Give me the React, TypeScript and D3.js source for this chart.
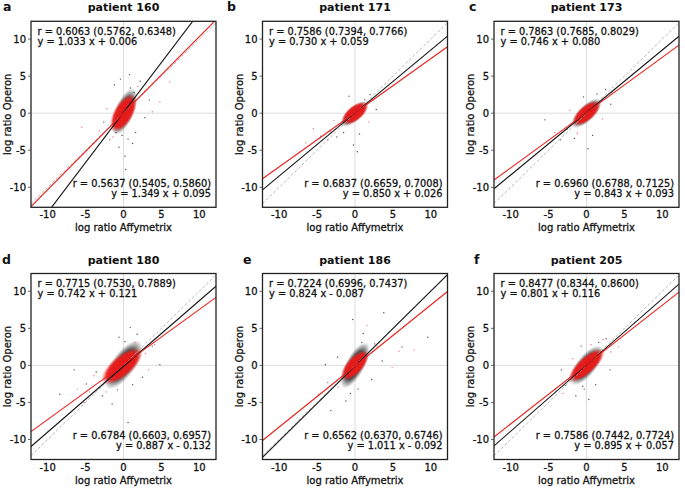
import React from 'react';
import * as d3 from 'd3';

// ---------- data ----------
const panelLetters = ['a', 'b', 'c', 'd', 'e', 'f'];
const patients = ['160', '171', '173', '180', '186', '205'];

// red fit (upper-left annotation)
const redR = [0.6063, 0.7586, 0.7863, 0.7715, 0.7224, 0.8477];
const redLo = [0.5762, 0.7394, 0.7685, 0.753, 0.6996, 0.8344];
const redHi = [0.6348, 0.7766, 0.8029, 0.7889, 0.7437, 0.86];
const redSlope = [1.033, 0.73, 0.746, 0.742, 0.824, 0.801];
const redIntercept = [0.006, 0.059, 0.08, 0.121, -0.087, 0.116];

// black fit (lower-right annotation)
const blackR = [0.5637, 0.6837, 0.696, 0.6784, 0.6562, 0.7586];
const blackLo = [0.5405, 0.6659, 0.6788, 0.6603, 0.637, 0.7442];
const blackHi = [0.586, 0.7008, 0.7125, 0.6957, 0.6746, 0.7724];
const blackSlope = [1.349, 0.85, 0.843, 0.887, 1.011, 0.895];
const blackIntercept = [0.095, 0.026, 0.093, -0.132, -0.092, 0.057];

const tickValues = [-10, -5, 0, 5, 10];
const xDomain = [-12.2, 12.2];
const yDomain = [-12.7, 12.4];

// dense cores: [cx, cy, semi-major, semi-minor, angle(deg)]
const blackCore: number[][] = [
  [0.1, 0.2, 3.3, 1.3, 68],
  [-0.1, -0.1, 2.3, 1.0, 42],
  [0, 0, 2.6, 1.1, 45],
  [0, 0.1, 3.8, 1.6, 55],
  [0, 0, 3.4, 1.3, 62],
  [0, 0, 3.2, 1.35, 52],
];
const redCore: number[][] = [
  [0, 0, 2.8, 1.35, 60],
  [0, 0, 2.1, 1.05, 38],
  [0, 0, 2.3, 1.05, 40],
  [-0.2, -0.1, 3.4, 1.45, 40],
  [0, 0, 2.5, 1.15, 48],
  [0, 0, 3.1, 1.15, 42],
];

// scattered points outside the cores
const blackPts: number[][][] = [
  [[0.3, -7.6], [0.2, -5.8], [-0.6, -4.6], [1.2, -4.1], [-1.8, -3.6], [2.2, 4.3], [0.8, 5.2], [-0.4, 4.6], [1.6, -2.6], [-2.6, -1.2], [3.4, 1.8], [2.8, -0.6], [-1.2, 3.8], [0.6, -3.5], [0.9, 3.4], [-0.2, -3.0], [1.4, 2.8], [-1.0, -2.6]],
  [[0.3, -5.2], [-0.2, -4.3], [-2.4, -3.2], [-4.5, -3.1], [2.0, 2.5], [1.3, 1.8], [-1.5, -2.6], [-3.6, -3.6], [0.6, -2.8], [-0.8, 2.3], [2.8, 0.5]],
  [[-5.5, -0.9], [-2.6, -2.2], [0.2, -4.8], [2.5, 3.2], [-1.6, -3.4], [1.4, 2.6], [-0.4, 2.2], [3.2, 1.2], [0.8, -3.0], [-3.4, -3.6]],
  [[-4.9, -2.5], [-6.5, -0.6], [0.9, 5.1], [-1.5, -5.2], [0.6, -7.7], [3.8, 2.6], [-2.8, -4.1], [1.8, 4.2], [4.8, 0.1], [-0.6, 3.8], [2.5, -1.6], [-3.6, -0.9], [-8.4, -3.9], [0.2, 3.2], [-0.8, -3.3], [1.2, -2.6]],
  [[-0.3, 6.2], [3.8, 7.1], [9.6, 3.8], [-3.2, -6.1], [-1.2, -4.8], [2.6, 2.9], [1.1, 4.3], [-0.6, -3.8], [3.6, 0.6], [-2.3, 1.1], [6.2, 2.5], [2.2, -1.9], [-3.9, 0.1], [0.4, -3.2], [0.9, 3.1]],
  [[-0.7, 2.6], [-1.4, -4.1], [-2.8, -2.7], [1.6, 3.1], [3.1, -0.6], [0.3, -4.6], [-3.3, -0.6], [2.6, 3.6], [-0.3, -3.2], [1.2, -2.6], [-0.5, -2.8]],
];
const redPts: number[][][] = [
  [[6.1, 4.2], [-5.5, -1.9], [4.8, 1.5], [-3.2, -2.4], [2.8, 2.9], [-2.2, 0.6], [3.8, 0.2], [-1.4, -3.2], [1.9, 3.6]],
  [[-5.5, -2.1], [-3.2, -2.5], [2.4, 1.8], [-2.8, -1.0], [1.8, -1.2], [-6.5, -4.0]],
  [[-4.2, -2.6], [3.3, 2.8], [-2.2, 0.4], [2.1, -0.8], [-1.2, -2.7]],
  [[-6.1, -3.2], [-4.5, -3.6], [2.9, 1.6], [-3.9, -1.4], [4.1, 2.8], [1.5, 3.1], [-2.3, -3.6], [3.3, -0.6], [-5.2, -5.0]],
  [[7.8, 2.1], [-3.6, -2.3], [2.9, 2.6], [-2.2, -2.9], [4.9, -0.3], [1.6, 5.4], [-4.8, -3.9], [5.8, 1.9]],
  [[-4.1, -3.3], [3.2, 1.8], [-2.4, -1.9], [2.2, 3.5], [4.2, 2.5], [-1.8, 0.9], [0.6, 2.8], [-3.1, -3.8]],
];

// ---------- layout ----------
const W = 685;
const H = 492;
const frameLeft = [31, 262.5, 494];
const frameTop = [21.3, 273.5];
const plotW = 185;
const plotH = 186;
const letterX = [3, 227, 469, 2, 243, 474];

const FONT = 'DejaVu Sans, Verdana, sans-serif';
const RED = '#e8201c';
const INK = '#111';
const textStyle = { stroke: INK, strokeWidth: 0.28 };

function fmtEq(slope: number, icpt: number) {
  const sign = icpt < 0 ? '-' : '+';
  return `y = ${slope.toFixed(3)} x ${sign} ${Math.abs(icpt).toFixed(3)}`;
}
function fmtR(r: number, lo: number, hi: number) {
  return `r = ${r.toFixed(4)} (${lo.toFixed(4)}, ${hi.toFixed(4)})`;
}

function Panel({ i }: { i: number }) {
  const col = i % 3;
  const row = Math.floor(i / 3);
  const left = frameLeft[col];
  const top = frameTop[row];
  const x = d3.scaleLinear().domain(xDomain).range([left, left + plotW]);
  const y = d3.scaleLinear().domain(yDomain).range([top + plotH, top]);
  const clipId = `clip-${i}`;

  const fitPath = (slope: number, icpt: number) => {
    const pts: [number, number][] = xDomain.map((v) => [x(v), y(slope * v + icpt)]);
    return d3.line()(pts) || '';
  };
  const kx = plotW / (xDomain[1] - xDomain[0]);
  const ky = plotH / (yDomain[1] - yDomain[0]);
  const core = (c: number[], grad: string) => (
    <ellipse
      cx={x(c[0])}
      cy={y(c[1])}
      rx={c[2] * kx}
      ry={c[3] * ky}
      fill={`url(#${grad})`}
      transform={`rotate(${-c[4]} ${x(c[0])} ${y(c[1])})`}
    />
  );

  return (
    <g>
      <defs>
        <clipPath id={clipId}>
          <rect x={left} y={top} width={plotW} height={plotH} />
        </clipPath>
      </defs>
      <text x={letterX[i]} y={top - 10} fontFamily={FONT} fontWeight="bold" fontSize={12.5} fill={INK}>
        {panelLetters[i]}
      </text>
      <text
        x={left + plotW / 2}
        y={top - 10}
        textAnchor="middle"
        fontFamily={FONT}
        fontWeight="bold"
        fontSize={11}
        fill={INK}
      >
        {`patient ${patients[i]}`}
      </text>
      <g clipPath={`url(#${clipId})`}>
        <rect x={left} y={top} width={plotW} height={plotH} fill="#fff" />
        <line x1={x(0)} x2={x(0)} y1={top} y2={top + plotH} stroke="#dcdcdc" strokeWidth={1} />
        <line x1={left} x2={left + plotW} y1={y(0)} y2={y(0)} stroke="#dcdcdc" strokeWidth={1} />
        {core(blackCore[i], 'gBlack')}
        {blackPts[i].map((p, k) => (
          <circle key={'b' + k} cx={x(p[0])} cy={y(p[1])} r={0.7} fill="#222" opacity={0.8} />
        ))}
        {core(redCore[i], 'gRed')}
        {redPts[i].map((p, k) => (
          <circle key={'r' + k} cx={x(p[0])} cy={y(p[1])} r={0.7} fill="#f03838" opacity={0.7} />
        ))}
        <path d={fitPath(1, 0)} stroke="#b0b0b0" strokeWidth={0.9} strokeDasharray="3,2" fill="none" />
        <path d={fitPath(blackSlope[i], blackIntercept[i])} stroke="#111" strokeWidth={1.1} fill="none" />
        <path d={fitPath(redSlope[i], redIntercept[i])} stroke={RED} strokeWidth={1.1} fill="none" />
      </g>
      <rect x={left} y={top} width={plotW} height={plotH} fill="none" stroke="#222" strokeWidth={1.3} />
      {tickValues.map((t) => (
        <g key={'y' + t}>
          <line x1={left - 3} x2={left} y1={y(t)} y2={y(t)} stroke="#444" strokeWidth={0.8} />
          <text
            x={left - 5}
            y={y(t)}
            dy="0.35em"
            textAnchor="end"
            fontFamily={FONT}
            fontSize={10}
            fill={INK}
            style={textStyle}
          >
            {t}
          </text>
        </g>
      ))}
      {tickValues.map((t) => (
        <text
          key={'x' + t}
          x={x(t)}
          y={top + plotH + 11}
          textAnchor="middle"
          fontFamily={FONT}
          fontSize={10}
          fill={INK}
          style={textStyle}
        >
          {t}
        </text>
      ))}
      <text
        x={left + plotW / 2}
        y={top + plotH + 24}
        textAnchor="middle"
        fontFamily={FONT}
        fontSize={10}
        fill={INK}
        style={textStyle}
      >
        log ratio Affymetrix
      </text>
      <text
        transform={`translate(${left - 20},${top + plotH / 2}) rotate(-90)`}
        textAnchor="middle"
        fontFamily={FONT}
        fontSize={10}
        fill={INK}
        style={textStyle}
      >
        log ratio Operon
      </text>
      <text x={left + 6.5} y={top + 13.5} fontFamily={FONT} fontSize={9.8} fill={INK} style={textStyle}>
        {fmtR(redR[i], redLo[i], redHi[i])}
      </text>
      <text x={left + 6.5} y={top + 23.2} fontFamily={FONT} fontSize={9.8} fill={INK} style={textStyle}>
        {fmtEq(redSlope[i], redIntercept[i])}
      </text>
      <text
        x={left + plotW - 5}
        y={top + plotH - 20.5}
        textAnchor="end"
        fontFamily={FONT}
        fontSize={9.8}
        fill={INK}
        style={textStyle}
      >
        {fmtR(blackR[i], blackLo[i], blackHi[i])}
      </text>
      <text
        x={left + plotW - 5}
        y={top + plotH - 10.5}
        textAnchor="end"
        fontFamily={FONT}
        fontSize={9.8}
        fill={INK}
        style={textStyle}
      >
        {fmtEq(blackSlope[i], blackIntercept[i])}
      </text>
    </g>
  );
}

export default function App() {
  return (
    <svg
      width={W}
      height={H}
      viewBox={`0 0 ${W} ${H}`}
      style={{ position: 'absolute', left: 0, top: 0, background: '#fff' }}
    >
      <defs>
        <radialGradient id="gBlack">
          <stop offset="0%" stopColor="#111" stopOpacity={0.95} />
          <stop offset="60%" stopColor="#1a1a1a" stopOpacity={0.8} />
          <stop offset="100%" stopColor="#444" stopOpacity={0} />
        </radialGradient>
        <radialGradient id="gRed">
          <stop offset="0%" stopColor="#e81818" stopOpacity={1} />
          <stop offset="72%" stopColor="#ea1c1c" stopOpacity={0.95} />
          <stop offset="100%" stopColor="#f04040" stopOpacity={0} />
        </radialGradient>
      </defs>
      <rect x={0} y={0} width={W} height={H} fill="#fff" />
      {panelLetters.map((_, i) => (
        <Panel key={i} i={i} />
      ))}
    </svg>
  );
}
